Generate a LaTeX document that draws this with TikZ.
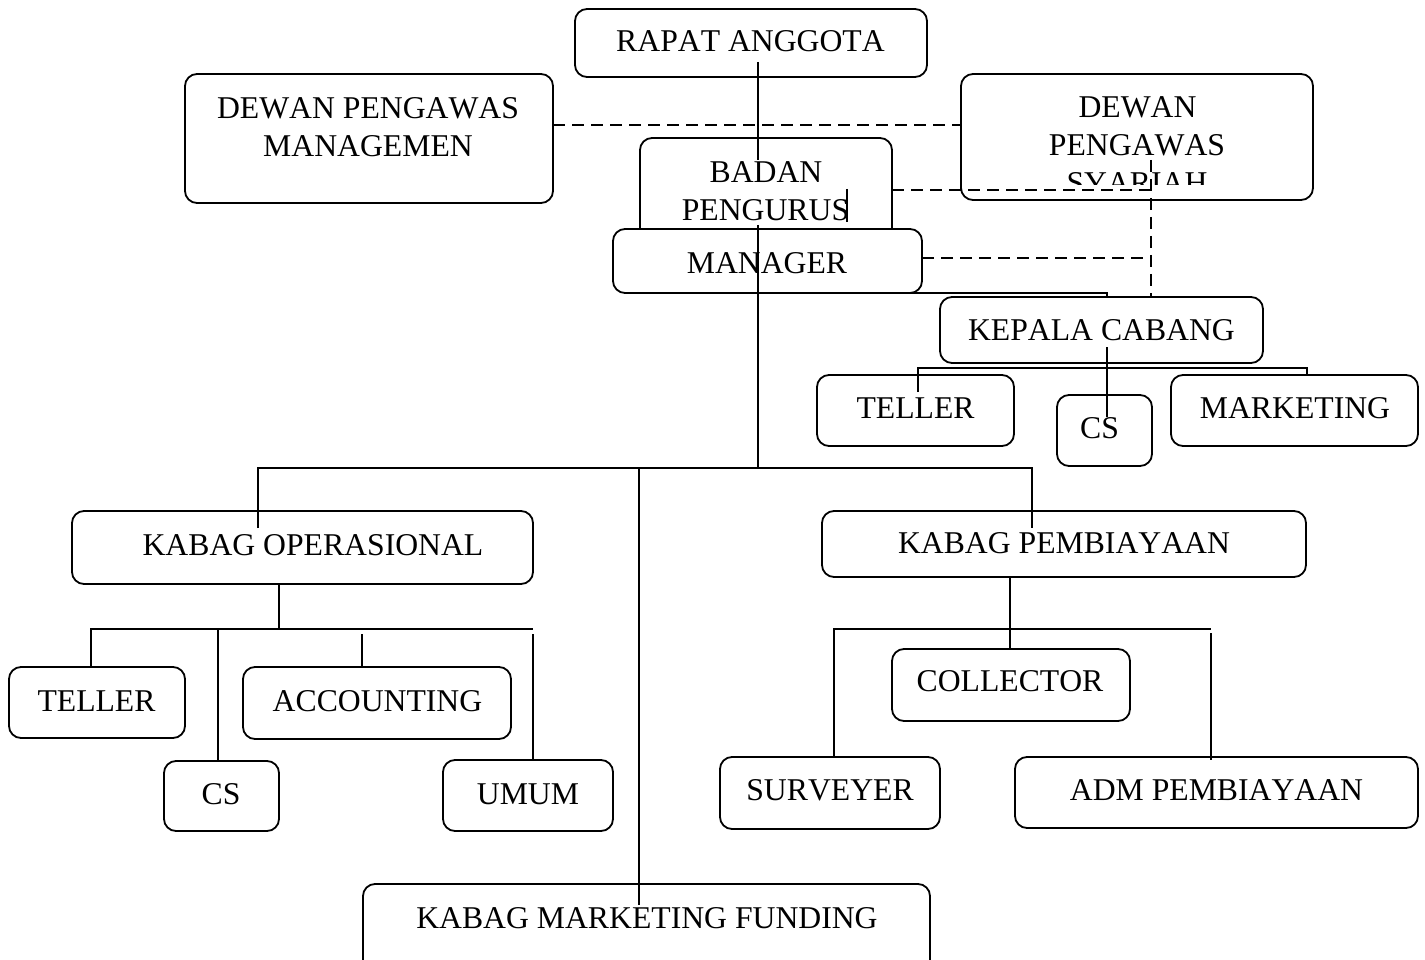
\documentclass[tikz,border=0pt]{standalone}
\usepackage{fontspec}
\setmainfont{Liberation Serif}[Kerning=Off]
\tikzset{
  box/.style={draw, rounded corners=12pt, line width=1.8pt, fill=white, inner sep=0pt, outer sep=0pt},
  lbl/.style={anchor=base, inner sep=0pt, font=\fontsize{31.7}{38}\selectfont},
  ln/.style={line width=1.8pt},
  dsh/.style={line width=1.8pt, dash pattern=on 12pt off 7pt},
}
\newcommand\mkbox[5]{\node[box, minimum width={#4-#2}, minimum height={#5-#3}] (#1) at ({(#2+#4)/2},{(#3+#5)/2}) {};}
\begin{document}
\begin{tikzpicture}[x=1pt,y=-1pt]
\useasboundingbox (0,0) rectangle (1425,960);
% boxes
\mkbox{rapat}{575}{9}{927}{77}
\mkbox{dpm}{185}{74}{553}{203}
\mkbox{dps}{961}{74}{1313}{200}
\mkbox{badan}{640}{138}{892}{285}
\mkbox{manager}{613}{229}{922}{293}
\mkbox{kepala}{940}{297}{1263}{363}
\mkbox{tellerA}{817}{375}{1014}{446}
\mkbox{csA}{1057}{395}{1152}{466}
\mkbox{mkt}{1171}{375}{1418}{446}
\mkbox{kop}{72}{511}{533}{584}
\mkbox{kpb}{822}{511}{1306}{577}
\mkbox{tellerB}{9}{667}{185}{738}
\mkbox{acc}{243}{667}{511}{739}
\mkbox{csB}{164}{761}{279}{831}
\mkbox{umum}{443}{760}{613}{831}
\mkbox{col}{892}{649}{1130}{721}
\mkbox{sur}{720}{757}{940}{829}
\mkbox{adm}{1015}{757}{1418}{828}
\mkbox{kmf}{363}{884}{930}{985}
% labels
\node[lbl] (l-rapat) at (750.5,52) {RAPAT ANGGOTA};
\node[lbl] (l-dpm1) at (368,119) {DEWAN PENGAWAS};
\node[lbl] (l-dpm2) at (368,157) {MANAGEMEN};
\node[lbl] (l-dps1) at (1137.5,118) {DEWAN};
\node[lbl] (l-dps2) at (1137,156) {PENGAWAS};
\begin{scope}
\clip (961,74) rectangle (1313,185);
\node[lbl] (l-dps3) at (1137,194) {SYARIAH};
\end{scope}
\node[lbl] (l-badan1) at (766,183) {BADAN};
\node[lbl] (l-badan2) at (765.5,221) {PENGURUS};
\node[lbl] (l-manager) at (767,273) {MANAGER};
\node[lbl] (l-kepala) at (1101.5,340) {KEPALA CABANG};
\node[lbl] (l-tellerA) at (915.5,418) {TELLER};
\node[lbl] (l-csA) at (1099.5,438) {CS};
\node[lbl] (l-mkt) at (1295,418) {MARKETING};
\node[lbl] (l-kop) at (313,555) {KABAG OPERASIONAL};
\node[lbl] (l-kpb) at (1064,553) {KABAG PEMBIAYAAN};
\node[lbl] (l-tellerB) at (96.5,711) {TELLER};
\node[lbl] (l-acc) at (377.5,711) {ACCOUNTING};
\node[lbl] (l-csB) at (221,804) {CS};
\node[lbl] (l-umum) at (528,804) {UMUM};
\node[lbl] (l-col) at (1010,691) {COLLECTOR};
\node[lbl] (l-sur) at (830,800) {SURVEYER};
\node[lbl] (l-adm) at (1216.5,800) {ADM PEMBIAYAAN};
\node[lbl] (l-kmf) at (647,928) {KABAG MARKETING FUNDING};
% solid connectors
\draw[ln] (758,62) -- (758,160);
\draw[ln] (758,225) -- (758,468);
\draw[ln] (847,189) -- (847,222);
\draw[ln] (905,293) -- (1107,293) -- (1107,297);
\draw[ln] (1107,347) -- (1107,417);
\draw[ln] (918,392) -- (918,368) -- (1307,368) -- (1307,375);
\draw[ln] (258,528) -- (258,468) -- (1032,468) -- (1032,528);
\draw[ln] (639,468) -- (639,905);
\draw[ln] (279,584) -- (279,629);
\draw[ln] (91,667) -- (91,629) -- (533,629);
\draw[ln] (218,629) -- (218,761);
\draw[ln] (362,634) -- (362,667);
\draw[ln] (533,634) -- (533,760);
\draw[ln] (1010,577) -- (1010,649);
\draw[ln] (834,757) -- (834,629) -- (1211,629);
\draw[ln] (1211,633) -- (1211,760);
% dashed connectors
\draw[dsh] (553,125) -- (961,125);
\draw[dsh] (892,190) -- (1151,190);
\draw[dsh] (922,258) -- (1151,258);
\draw[dsh] (1151,160) -- (1151,297);
\end{tikzpicture}
\end{document}
